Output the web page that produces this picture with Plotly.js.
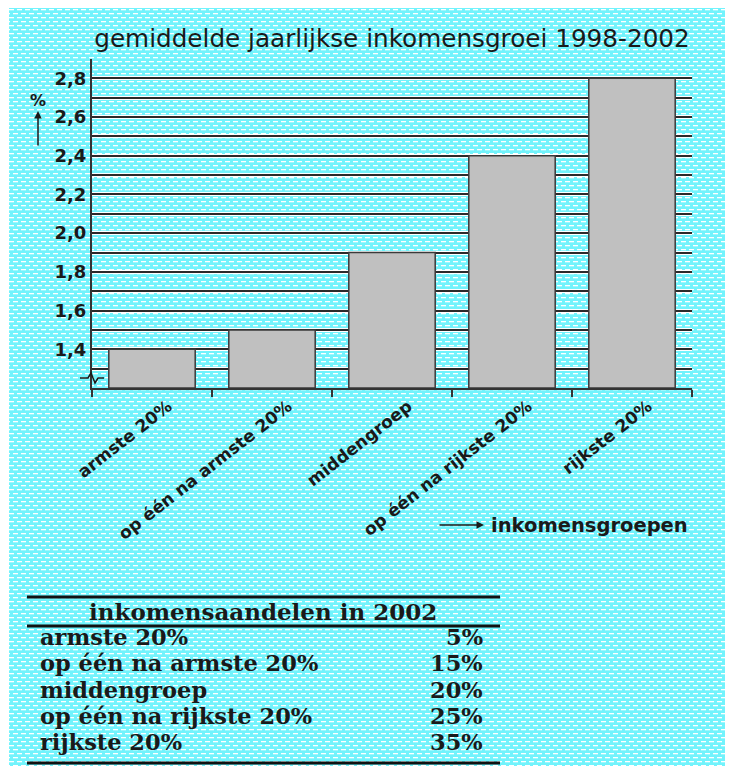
<!DOCTYPE html>
<html>
<head>
<meta charset="utf-8">
<script src="https://cdn.plot.ly/plotly-3.0.1.min.js"></script>
<style>
  html, body { margin: 0; padding: 0; background: #ffffff; }
  #bg {
    position: absolute; left: 9px; top: 8px; width: 716px; height: 758px;
    background-color: #72f3fc;
    background-image: url("data:image/svg+xml;utf8,<svg xmlns='http://www.w3.org/2000/svg' width='8' height='8'><rect x='0' y='1' width='5' height='1.3' fill='white'/><rect x='4' y='5' width='4' height='1.3' fill='white'/><rect x='0' y='5' width='1' height='1.3' fill='white'/></svg>");
  }
  #chart { position: absolute; left: 0; top: 0; width: 733px; height: 766px; }
</style>
</head>
<body>
<div id="bg"></div>
<div id="chart"></div>
<script>
// ---- data ----
var categories = ["armste 20%", "op één na armste 20%", "middengroep", "op één na rijkste 20%", "rijkste 20%"];
var growth = [1.4, 1.5, 1.9, 2.4, 2.8];
var yTickVals = [1.3, 1.4, 1.5, 1.6, 1.7, 1.8, 1.9, 2.0, 2.1, 2.2, 2.3, 2.4, 2.5, 2.6, 2.7, 2.8, 2.9];
var yTickText = ["", "1,4", "", "1,6", "", "1,8", "", "2,0", "", "2,2", "", "2,4", "", "2,6", "", "2,8", ""];
var chartTitle = "gemiddelde jaarlijkse inkomensgroei 1998-2002";
var xAxisLabel = "inkomensgroepen";
var yAxisLabel = "%";
var tableTitle = "inkomensaandelen in 2002";
var tableGroups = ["armste 20%", "op één na armste 20%", "middengroep", "op één na rijkste 20%", "rijkste 20%"];
var tableShares = ["5%", "15%", "20%", "25%", "35%"];
var axisBottom = 1.2;

// ---- layout helpers (pixel -> paper) ----
var L = 92, R = 692, T = 59, B = 388;
function px(x) { return (x - L) / (R - L); }
function py(y) { return (B - y) / (B - T); }

var sans = "DejaVu Sans, Verdana, sans-serif";
var serif = "DejaVu Serif, Liberation Serif, serif";
var ink = "#1a1a1a";

var annotations = [];
var shapes = [];

// x-axis label with arrow
annotations.push({xref: "paper", yref: "paper", x: px(489), y: py(525), xanchor: "left", yanchor: "middle",
  text: "<b>" + xAxisLabel + "</b>", showarrow: false, font: {family: sans, size: 19.5, color: ink}});
annotations.push({xref: "paper", yref: "paper", x: px(484), y: py(525), ax: -46, ay: 0, text: "",
  showarrow: true, arrowhead: 2, arrowsize: 1, arrowwidth: 1.5, arrowcolor: ink});
// y-axis label with arrow
annotations.push({xref: "paper", yref: "paper", x: px(38), y: py(100), xanchor: "center", yanchor: "middle",
  text: "<b>" + yAxisLabel + "</b>", showarrow: false, font: {family: sans, size: 16, color: ink}});
annotations.push({xref: "paper", yref: "paper", x: px(38), y: py(111), ax: 0, ay: 36, text: "",
  showarrow: true, arrowhead: 2, arrowsize: 1, arrowwidth: 1.5, arrowcolor: ink});

// axis break mark
shapes.push({type: "path", xref: "paper", yref: "paper",
  path: "M " + px(80) + "," + py(378) + " L " + px(88) + "," + py(378) + " L " + px(91) + "," + py(373) +
        " L " + px(95) + "," + py(383) + " L " + px(98) + "," + py(378) + " L " + px(104) + "," + py(378),
  line: {color: ink, width: 1.5}});

// table
var tx0 = 27, tx1 = 500;
[597, 626, 763].forEach(function (yy) {
  shapes.push({type: "line", xref: "paper", yref: "paper", x0: px(tx0), x1: px(tx1), y0: py(yy), y1: py(yy),
    line: {color: "#111", width: 3}});
});
annotations.push({xref: "paper", yref: "paper", x: px(263), y: py(611), xanchor: "center", yanchor: "middle",
  text: "<b>" + tableTitle + "</b>", showarrow: false, font: {family: serif, size: 23, color: ink}});
var rowY = [637, 663, 690, 716, 742];
for (var i = 0; i < tableGroups.length; i++) {
  annotations.push({xref: "paper", yref: "paper", x: px(38), y: py(rowY[i]), xanchor: "left", yanchor: "middle",
    text: "<b>" + tableGroups[i] + "</b>", showarrow: false, font: {family: serif, size: 22.5, color: ink}});
  annotations.push({xref: "paper", yref: "paper", x: px(485), y: py(rowY[i]), xanchor: "right", yanchor: "middle",
    text: "<b>" + tableShares[i] + "</b>", showarrow: false, font: {family: serif, size: 22.5, color: ink}});
}

var trace = {
  type: "bar",
  x: categories,
  y: growth.map(function (v) { return v - axisBottom; }),
  base: axisBottom,
  width: 0.72,
  marker: {color: "#c0c0c0", line: {color: "#3a3a3a", width: 1.5}},
  hoverinfo: "skip"
};
// invisible trace on the overlay axis so its dark gridlines are drawn
var gridTrace = {type: "scatter", x: [categories[0]], y: [growth[0]], yaxis: "y2",
  mode: "markers", marker: {opacity: 0}, hoverinfo: "skip"};

var layout = {
  width: 733, height: 766,
  paper_bgcolor: "rgba(0,0,0,0)",
  plot_bgcolor: "rgba(0,0,0,0)",
  margin: {l: L, r: 733 - R, t: T, b: 766 - B, pad: 0},
  showlegend: false,
  title: {text: chartTitle, x: 392 / 733, xanchor: "center", y: 1 - 38 / 766, yanchor: "middle",
    font: {family: sans, size: 24.7, color: ink}},
  xaxis: {
    type: "category",
    showline: true, linecolor: "#333", linewidth: 2,
    ticks: "outside", tickson: "boundaries", ticklen: 7, tickwidth: 1.5, tickcolor: "#333",
    tickangle: -38, tickfont: {family: sans, size: 17, color: ink, weight: "bold"},
    ticklabelshift: 16,
    showgrid: false, zeroline: false, fixedrange: true
  },
  yaxis: {
    range: [axisBottom, 2.9],
    tickmode: "array", tickvals: yTickVals, ticktext: yTickText,
    showline: true, linecolor: "#333", linewidth: 2,
    ticks: "", tickfont: {family: sans, size: 18, color: ink, weight: "bold"},
    showgrid: true, gridcolor: "#ffffff", gridwidth: 4,
    zeroline: false, fixedrange: true
  },
  yaxis2: {
    overlaying: "y", side: "left",
    range: [axisBottom, 2.9],
    tickmode: "array", tickvals: yTickVals, ticktext: yTickVals.map(function () { return ""; }),
    showticklabels: false, ticks: "", showline: false,
    showgrid: true, gridcolor: "#2b2b2b", gridwidth: 2,
    zeroline: false, fixedrange: true
  },
  annotations: annotations,
  shapes: shapes
};

Plotly.newPlot("chart", [trace, gridTrace], layout, {displayModeBar: false, staticPlot: true});
</script>
</body>
</html>
